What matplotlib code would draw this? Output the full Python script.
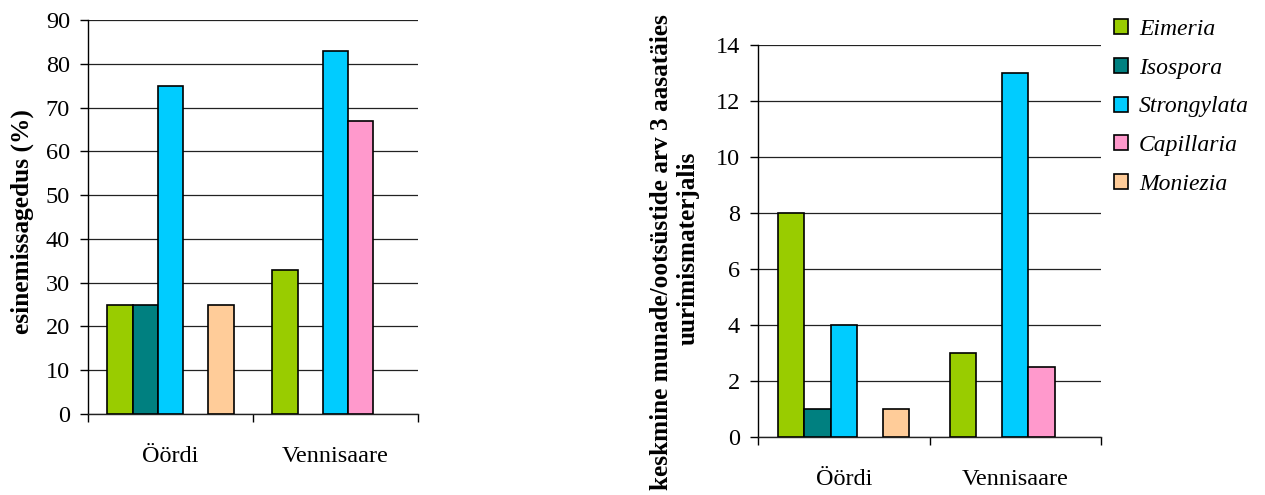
import numpy as np
from matplotlib import pyplot as plt
from matplotlib.patches import Patch

plt.rcParams['font.family'] = ['Liberation Serif', 'DejaVu Serif']

sites = ['Öördi', 'Vennisaare']
parasites = ['Eimeria', 'Isospora', 'Strongylata', 'Capillaria', 'Moniezia']
colors = ['#99CC00', '#008080', '#00CCFF', '#FF99CC', '#FFCC99']

# esinemissagedus (%) per site, order = parasites
prevalence = {
    'Öördi':      [25, 25, 75, 0, 25],
    'Vennisaare': [33, 0, 83, 67, 0],
}
# keskmine munade/ootsüstide arv
eggs = {
    'Öördi':      [8, 1, 4, 0, 1],
    'Vennisaare': [3, 0, 13, 2.5, 0],
}

W = 0.153


def draw(ax, data, ymax, ystep):
    x = np.arange(len(sites))
    for i, (name, col) in enumerate(zip(parasites, colors)):
        vals = [data[s][i] for s in sites]
        for xi, v in zip(x, vals):
            if v > 0:
                ax.bar(xi + (i - 2) * W, v, W, color=col, edgecolor='black',
                       linewidth=1.2, zorder=3)
    ax.set_xlim(-0.5, 1.5)
    ax.set_ylim(0, ymax)
    ax.set_yticks(np.arange(0, ymax + 0.1, ystep))
    ax.set_xticks(x)
    ax.set_xticklabels(sites)
    ax.set_xticks([-0.5, 0.5, 1.5], minor=True)
    ax.tick_params(axis='x', which='major', length=0, pad=23, labelsize=17.5)
    ax.tick_params(axis='x', which='minor', length=6, width=1, direction='out')
    ax.tick_params(axis='y', length=6, width=1, pad=7, labelsize=17.5)
    ax.yaxis.grid(True, color='#222222', linewidth=0.9, zorder=0)
    ax.set_axisbelow(True)
    for s in ['top', 'right']:
        ax.spines[s].set_visible(False)
    ax.spines['left'].set_linewidth(1)
    ax.spines['bottom'].set_linewidth(1)
    ax.spines['bottom'].set_color('#222222')


fig = plt.figure(figsize=(12.65, 4.95), dpi=100)
ax1 = fig.add_axes([88 / 1265, 81 / 495, 330 / 1265, 394 / 495])
ax2 = fig.add_axes([758 / 1265, 58 / 495, 343 / 1265, 392 / 495])

draw(ax1, prevalence, 90, 10)
draw(ax2, eggs, 14, 2)

fig.text(22 / 1265, 1 - 222 / 495, 'esinemissagedus (%)', rotation=90,
         ha='center', va='center', fontsize=18.3, fontweight='bold')
fig.text(661 / 1265, 1 - 252 / 495, 'keskmine munade/ootsüstide arv 3 aasatäies',
         rotation=90, ha='center', va='center', fontsize=18.2, fontweight='bold')
fig.text(688 / 1265, 1 - 248 / 495, 'uurimismaterjalis',
         rotation=90, ha='center', va='center', fontsize=18.2, fontweight='bold')

handles = [Patch(facecolor=c, edgecolor='black', linewidth=1.2) for c in colors]
fig.legend(handles, parasites, loc='upper left',
           bbox_to_anchor=(1114 / 1265, 1 - 19 / 495), frameon=False,
           prop={'style': 'italic', 'size': 17}, handlelength=0.6,
           handleheight=0.6, handletextpad=0.45, labelspacing=0.75,
           borderpad=0, borderaxespad=0)

fig.savefig('out.png', dpi=100)
